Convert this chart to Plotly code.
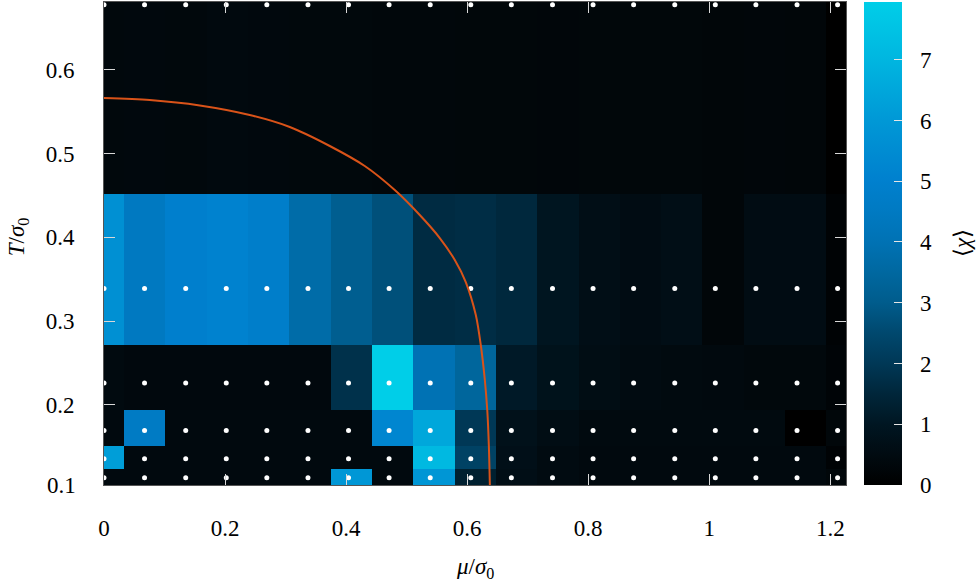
import plotly.graph_objects as go

# Cell edges of the susceptibility map (mu / sigma0 across, T / sigma0 up)
mu_edges = [0.0, 0.0331, 0.1014, 0.1696, 0.2379, 0.3061, 0.3744, 0.4427, 0.5109,
            0.5792, 0.6475, 0.7157, 0.7840, 0.8522, 0.9205, 0.9888, 1.0570,
            1.1253, 1.1935, 1.2265]
T_edges = [0.1043, 0.1233, 0.1507, 0.1937, 0.2712, 0.4520, 0.6812]

# <chi> per cell, rows from the lowest temperature upward
chi_T6 = [0.40, 0.40, 0.40, 0.40, 0.40, 0.40, 5.95, 0.40, 5.90, 1.30, 0.65, 0.50, 0.40, 0.40, 0.40, 0.40, 0.40, 0.40, 0.30]
chi_T5 = [6.20, 0.40, 0.40, 0.40, 0.40, 0.40, 0.40, 0.40, 7.10, 2.30, 0.70, 0.50, 0.40, 0.40, 0.40, 0.40, 0.40, 0.40, 0.15]
chi_T4 = [0.40, 4.60, 0.40, 0.40, 0.40, 0.40, 0.40, 5.25, 6.50, 2.00, 0.75, 0.60, 0.45, 0.45, 0.45, 0.45, 0.45, 0.00, 0.30]
chi_T3 = [0.45, 0.38, 0.38, 0.38, 0.38, 0.38, 1.80, 7.95, 4.00, 3.40, 1.10, 0.80, 0.60, 0.50, 0.45, 0.40, 0.35, 0.35, 0.20]
chi_T2 = [5.67, 4.45, 4.95, 5.10, 4.85, 3.70, 3.10, 2.70, 1.65, 1.70, 1.55, 0.95, 0.65, 0.55, 0.65, 0.25, 0.55, 0.55, 0.15]
chi_T1 = [0.36, 0.38, 0.36, 0.40, 0.38, 0.36, 0.35, 0.33, 0.32, 0.30, 0.30, 0.28, 0.30, 0.30, 0.30, 0.25, 0.28, 0.27, 0.00]

# Simulated (mu, T) sample points
mu_points = [0.000, 0.067, 0.135, 0.202, 0.269, 0.337, 0.404, 0.471, 0.539, 0.606,
             0.673, 0.741, 0.808, 0.875, 0.943, 1.010, 1.077, 1.145, 1.212]
T_points = [0.678, 0.339, 0.226, 0.1695, 0.1356, 0.113]

# Mean-field phase boundary
mu_crit = [0.0000, 0.0755, 0.1582, 0.2408, 0.3069, 0.3730, 0.4308, 0.4804, 0.5217,
           0.5548, 0.5796, 0.5977, 0.6143, 0.6225, 0.6292, 0.6333, 0.6358, 0.6375]
T_crit = [0.5665, 0.5641, 0.5576, 0.5462, 0.5319, 0.5092, 0.4853, 0.4566, 0.4268,
          0.3993, 0.3730, 0.3467, 0.3073, 0.2715, 0.2297, 0.1927, 0.1521, 0.1043]

x_ticks = [0, 0.2, 0.4, 0.6, 0.8, 1.0, 1.2]
x_ticktext = ["0", "0.2", "0.4", "0.6", "0.8", "1", "1.2"]
y_ticks = [0.2, 0.3, 0.4, 0.5, 0.6]
y_ticktext = ["0.2", "0.3", "0.4", "0.5", "0.6"]
cb_ticks = [0, 1, 2, 3, 4, 5, 6, 7]

chi_max = 7.95
cmap = [(0.0, "rgb(0,0,0)"), (0.5, "rgb(1,11,17)"), (1.0, "rgb(0,22,34)"),
        (1.5, "rgb(0,38,58)"), (2.0, "rgb(0,56,86)"), (2.5, "rgb(0,72,110)"),
        (3.0, "rgb(0,92,140)"), (3.5, "rgb(0,104,160)"), (4.0, "rgb(0,114,180)"),
        (4.5, "rgb(0,122,194)"), (5.0, "rgb(0,128,206)"), (6.0, "rgb(0,152,214)"),
        (7.0, "rgb(0,182,224)"), (chi_max, "rgb(0,206,232)")]
colorscale = [[v / chi_max, c] for v, c in cmap]
clear_scale = [[0, "rgba(0,0,0,0)"], [1, "rgba(0,0,0,0)"]]

FONT = "Liberation Serif, DejaVu Serif, serif"
FS = 23
CB_X = 1.0243
CB_TICK = "#e6e6e6"

z = [chi_T6, chi_T5, chi_T4, chi_T3, chi_T2, chi_T1]

fig = go.Figure()
# colour map; its bar carries short inner tick marks
fig.add_trace(go.Heatmap(
    x=mu_edges, y=T_edges, z=z, zmin=0, zmax=chi_max,
    colorscale=colorscale, hoverinfo="skip",
    colorbar=dict(
        x=CB_X, xanchor="left", xpad=0, y=0.5, yanchor="middle", ypad=0,
        len=1, lenmode="fraction", thickness=38, outlinewidth=0,
        tickvals=cb_ticks, ticks="inside", ticklen=8, tickcolor=CB_TICK,
        showticklabels=False,
    ),
))

# transparent companion scale carrying the colour-bar labels
fig.add_trace(go.Scatter(
    x=[0.5], y=[0.5], mode="markers", hoverinfo="skip", showlegend=False,
    marker=dict(color=[0], cmin=0, cmax=chi_max, colorscale=clear_scale,
                opacity=0, size=1, showscale=True,
                colorbar=dict(
                    x=CB_X, xanchor="left", xpad=0, y=0.5, yanchor="middle", ypad=0,
                    len=1, lenmode="fraction", thickness=38, outlinewidth=0,
                    tickvals=cb_ticks, ticks="outside", ticklen=14,
                    tickcolor="rgba(0,0,0,0)",
                    tickfont=dict(family=FONT, size=FS, color="black"),
                )),
))

px, py = [], []
for t in T_points:
    for m in mu_points:
        px.append(m)
        py.append(t)
fig.add_trace(go.Scatter(x=px, y=py, mode="markers",
                         marker=dict(color="white", size=5), hoverinfo="skip",
                         showlegend=False))

fig.add_trace(go.Scatter(x=mu_crit, y=T_crit, mode="lines",
                         line=dict(color="#D95319", width=2, shape="spline", smoothing=0.8),
                         hoverinfo="skip", showlegend=False))

axis_common = dict(ticks="inside", ticklen=11, tickcolor="#d8d8d8", tickwidth=1,
                   showline=True, linecolor="#555555", linewidth=1, mirror="ticks",
                   showgrid=False, zeroline=False,
                   tickfont=dict(family=FONT, size=FS, color="black"))

fig.update_layout(
    width=978, height=587, autosize=False,
    margin=dict(l=104, r=132, t=2, b=102),
    paper_bgcolor="white", plot_bgcolor="black",
    showlegend=False,
    xaxis=dict(range=[0, 1.2259], tickvals=x_ticks, ticktext=x_ticktext,
               ticklabelstandoff=22, **axis_common),
    yaxis=dict(range=[T_edges[0], T_edges[-1]], tickvals=y_ticks, ticktext=y_ticktext,
               ticklabelstandoff=24, **axis_common),
    annotations=[
        dict(text="0.1", xref="paper", yref="paper", x=0, y=0, xanchor="right",
             yanchor="middle", xshift=-26, showarrow=False,
             font=dict(family=FONT, size=FS, color="black")),
        dict(text="<i>μ</i>/<i>σ</i><sub>0</sub>", xref="paper", yref="paper",
             x=0.5, y=-0.172, xanchor="center", yanchor="middle", showarrow=False,
             font=dict(family=FONT, size=FS, color="black")),
        dict(text="<i>T</i>/<i>σ</i><sub>0</sub>", xref="paper", yref="paper",
             x=-0.1159, y=0.513, xanchor="center", yanchor="middle", textangle=-90,
             showarrow=False, font=dict(family=FONT, size=FS, color="black")),
        dict(text="⟨<i>χ</i>⟩", xref="paper", yref="paper",
             x=1.1563, y=0.501, xanchor="center", yanchor="middle", textangle=-90,
             showarrow=False, font=dict(family=FONT, size=FS, color="black")),
    ],
)

fig.write_html("out.html")
